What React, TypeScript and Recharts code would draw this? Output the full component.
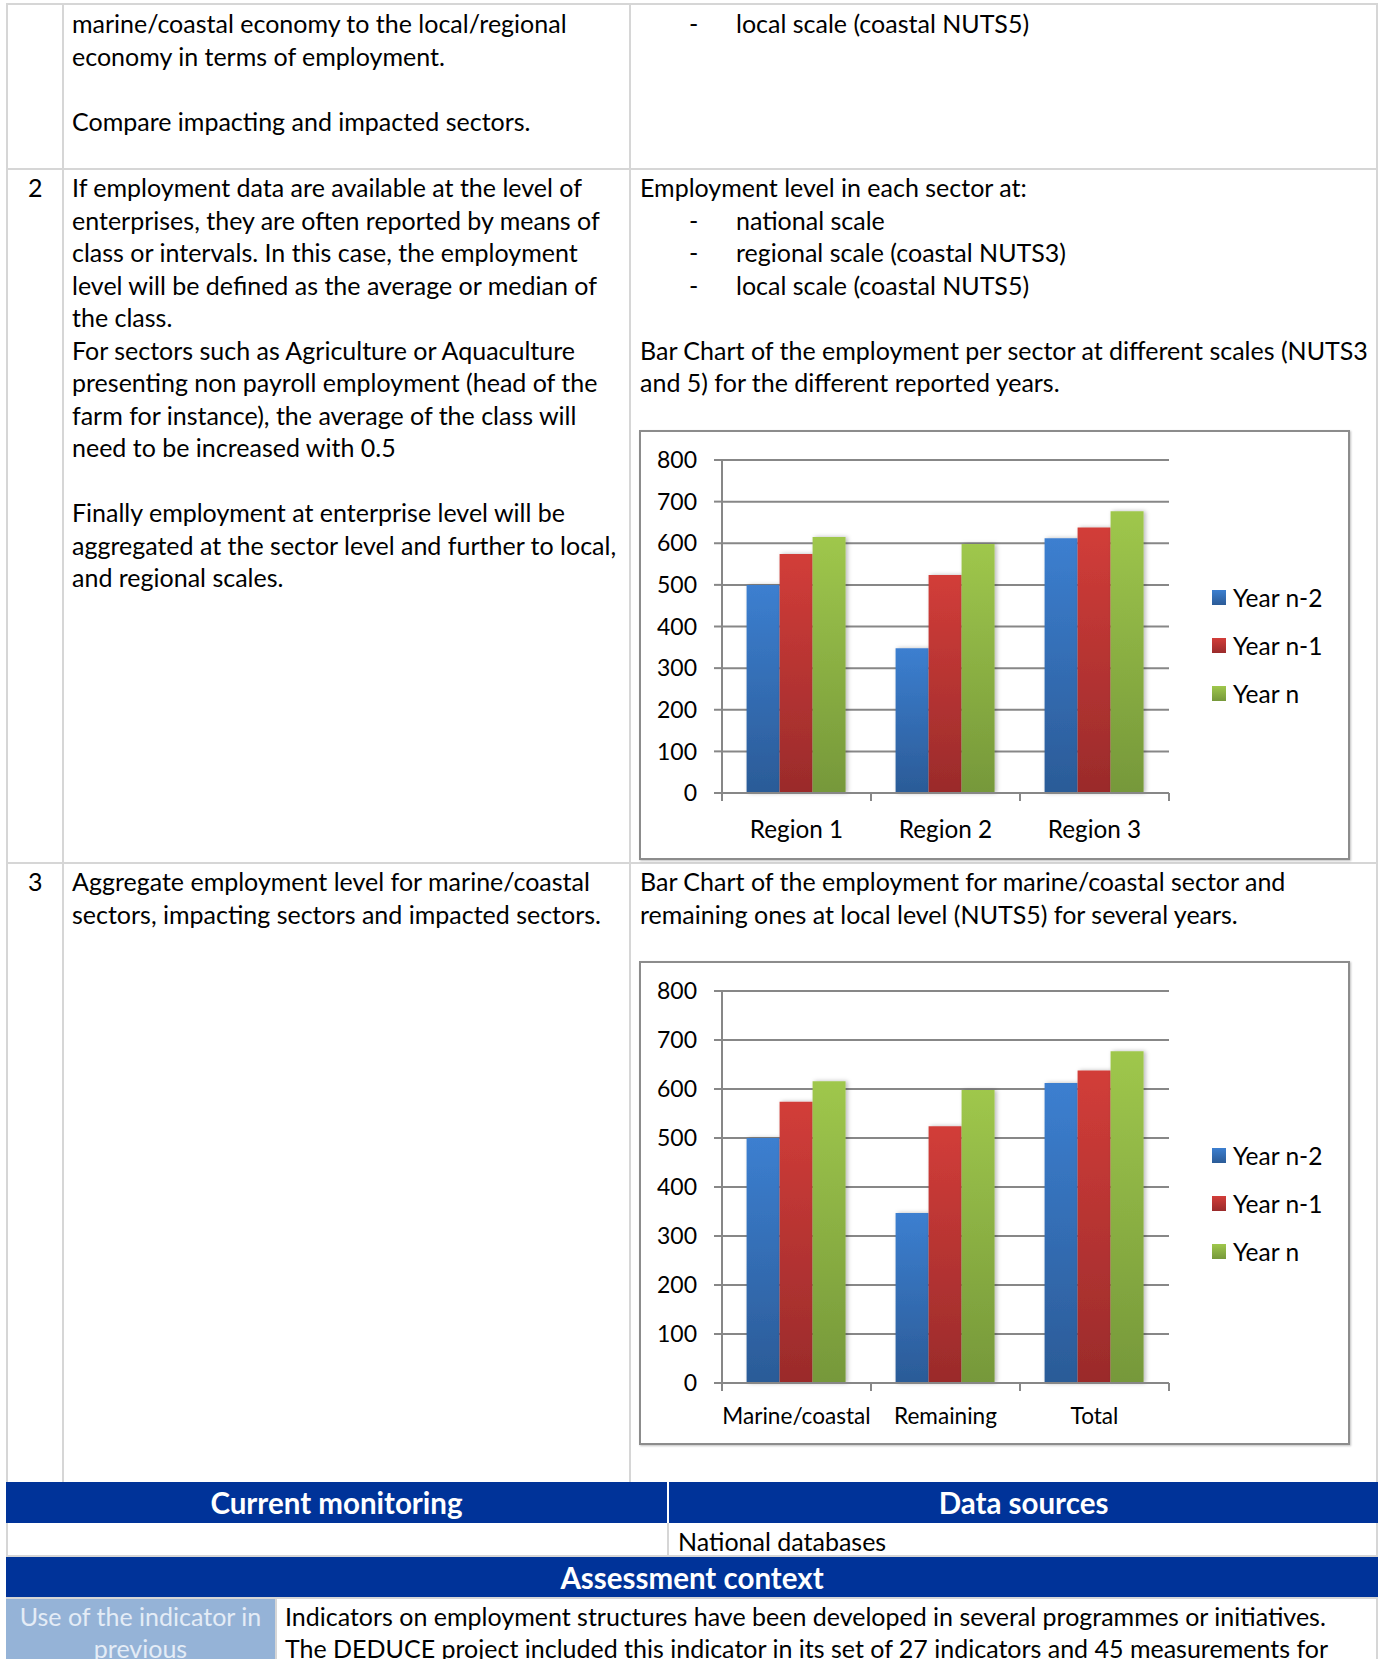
import React from "react";
import { Bar, BarChart, CartesianGrid, XAxis, YAxis } from "recharts";

// chart values read from the page
const regionCategories = ["Region 1", "Region 2", "Region 3"];
const sectorCategories = ["Marine/coastal", "Remaining", "Total"];
const seriesNames = ["Year n-2", "Year n-1", "Year n"];
const regionYearN2 = [500, 348, 612];
const regionYearN1 = [574, 524, 638];
const regionYearN = [615, 598, 677];
const sectorYearN2 = [500, 347, 612];
const sectorYearN1 = [574, 524, 638];
const sectorYearN = [616, 598, 677];
const yTicks = [0, 100, 200, 300, 400, 500, 600, 700, 800];

const seriesKeys = ["n2", "n1", "n"];
const gradients = [
  { id: "gBlue", top: "#3c7fd0", bottom: "#2b5b97" },
  { id: "gRed", top: "#d23d39", bottom: "#9a2b2b" },
  { id: "gGreen", top: "#9fc74c", bottom: "#76983a" }
];

const FONT = "Lato, 'Open Sans', sans-serif";
const GRID = "#878787";
const BORDER = "#d6d6d6";
const BLUE = "#003399";

function buildRows(cats: string[], a: number[], b: number[], c: number[]) {
  return cats.map((name, i) => ({ name, n2: a[i], n1: b[i], n: c[i] }));
}

function BoundaryTick(props: any) {
  const { x, y, payload, index, band, count, labelDy, fontSize } = props;
  return (
    <g>
      <line x1={x - band / 2} x2={x - band / 2} y1={y} y2={y + 8} stroke={GRID} strokeWidth={2} />
      {index === count - 1 && (
        <line x1={x + band / 2} x2={x + band / 2} y1={y} y2={y + 8} stroke={GRID} strokeWidth={2} />
      )}
      <text x={x} y={y + labelDy} textAnchor="middle" dominantBaseline="central" fontSize={fontSize} fill="#000" fontFamily={FONT}>
        {payload.value}
      </text>
    </g>
  );
}

function ChartBox({
  left,
  top,
  width,
  height,
  data,
  marginTop,
  marginBottom,
  labelDy,
  labelSize,
  legendTop
}: {
  left: number;
  top: number;
  width: number;
  height: number;
  data: Record<string, string | number>[];
  marginTop: number;
  marginBottom: number;
  labelDy: number;
  labelSize: number;
  legendTop: number;
}) {
  const innerW = width - 4;
  const innerH = height - 4;
  const yAxisW = 81;
  const marginRight = 179;
  const band = (innerW - yAxisW - marginRight) / data.length;
  return (
    <div
      style={{
        position: "absolute",
        left,
        top,
        width,
        height,
        boxSizing: "border-box",
        border: "2px solid #8c8c8c",
        boxShadow: "1px 1px 2px rgba(0,0,0,0.25)",
        background: "#fff"
      }}
    >
      <BarChart
        width={innerW}
        height={innerH}
        data={data}
        margin={{ top: marginTop, right: marginRight, bottom: marginBottom, left: 0 }}
        barCategoryGap="16.5%"
        barGap={0}
      >
        <defs>
          {gradients.map((g) => (
            <linearGradient key={g.id} id={g.id + top} x1="0" y1="0" x2="0" y2="1">
              <stop offset="0%" stopColor={g.top} />
              <stop offset="100%" stopColor={g.bottom} />
            </linearGradient>
          ))}
          <filter id={"shadow" + top} x="-20%" y="-5%" width="140%" height="110%">
            <feDropShadow dx="2" dy="0" stdDeviation="2" floodColor="#000" floodOpacity="0.28" />
          </filter>
        </defs>
        <CartesianGrid vertical={false} stroke={GRID} strokeWidth={2} />
        <XAxis
          dataKey="name"
          interval={0}
          height={30}
          tickLine={false}
          tickSize={0}
          tickMargin={0}
          axisLine={{ stroke: GRID, strokeWidth: 2 }}
          tick={<BoundaryTick band={band} count={data.length} labelDy={labelDy} fontSize={labelSize} />}
        />
        <YAxis
          width={yAxisW}
          domain={[0, 800]}
          ticks={yTicks}
          interval={0}
          tickSize={8}
          tickMargin={17}
          axisLine={{ stroke: GRID, strokeWidth: 2 }}
          tickLine={{ stroke: GRID, strokeWidth: 2 }}
          tick={{ fill: "#000", fontSize: 23, fontFamily: FONT }}
        />
        {seriesKeys.map((k, i) => (
          <Bar
            key={k}
            dataKey={k}
            name={seriesNames[i]}
            fill={`url(#${gradients[i].id + top})`}
            filter={`url(#shadow${top})`}
            isAnimationActive={false}
          />
        ))}
      </BarChart>
      <div style={{ position: "absolute", left: 571, top: legendTop, fontFamily: FONT, fontSize: 24.5 }}>
        {seriesNames.map((s, i) => (
          <div key={s} style={{ height: 48, display: "flex", alignItems: "center", whiteSpace: "nowrap" }}>
            <span
              style={{
                display: "inline-block",
                width: 14,
                height: 15,
                marginRight: 7,
                background: `linear-gradient(${gradients[i].top}, ${gradients[i].bottom})`
              }}
            />
            {s}
          </div>
        ))}
      </div>
    </div>
  );
}

const BODY = 25;

function Line({ x, y, text, size = BODY, color = "#000", bold = false }: { x: number; y: number; text: string; size?: number; color?: string; bold?: boolean }) {
  return (
    <div
      style={{
        position: "absolute",
        left: x,
        top: y - 16,
        height: 32,
        lineHeight: "32px",
        whiteSpace: "nowrap",
        fontSize: size,
        color,
        fontWeight: bold ? 700 : 400,
        fontFamily: FONT
      }}
    >
      {text}
    </div>
  );
}

function Centered({ x1, x2, y, text, size, color, bold }: { x1: number; x2: number; y: number; text: string; size: number; color: string; bold?: boolean }) {
  return (
    <div
      style={{
        position: "absolute",
        left: x1,
        width: x2 - x1,
        top: y - 16,
        height: 32,
        lineHeight: "32px",
        textAlign: "center",
        whiteSpace: "nowrap",
        fontSize: size,
        color,
        fontWeight: bold ? 700 : 400,
        fontFamily: FONT
      }}
    >
      {text}
    </div>
  );
}

function Rect({ l, t, w, h, c }: { l: number; t: number; w: number; h: number; c: string }) {
  return <div style={{ position: "absolute", left: l, top: t, width: w, height: h, background: c }} />;
}

const LH = 32.5;
const col2Row2 = [
  "If employment data are available at the level of",
  "enterprises, they are often reported by means of",
  "class or intervals. In this case, the employment",
  "level will be defined as the average or median of",
  "the class.",
  "For sectors such as Agriculture or Aquaculture",
  "presenting non payroll employment (head of the",
  "farm for instance), the average of the class will",
  "need to be increased with 0.5",
  "",
  "Finally employment at enterprise level will be",
  "aggregated at the sector level and further to local,",
  "and regional scales."
];

export default function App() {
  const regionData = buildRows(regionCategories, regionYearN2, regionYearN1, regionYearN);
  const sectorData = buildRows(sectorCategories, sectorYearN2, sectorYearN1, sectorYearN);
  return (
    <div style={{ position: "absolute", left: 0, top: 0, width: 1380, height: 1659, background: "#fff", overflow: "hidden" }}>
      {/* table grid */}
      <Rect l={6} t={3} w={1372} h={2} c={BORDER} />
      <Rect l={6} t={168} w={1372} h={2} c={BORDER} />
      <Rect l={6} t={862} w={1372} h={2} c={BORDER} />
      <Rect l={6} t={3} w={2} h={1480} c={BORDER} />
      <Rect l={62} t={3} w={2} h={1480} c={BORDER} />
      <Rect l={629} t={3} w={2} h={1480} c={BORDER} />
      <Rect l={1376} t={3} w={2} h={1480} c={BORDER} />

      {/* row 1 */}
      <Line x={72} y={23} text="marine/coastal economy to the local/regional" />
      <Line x={72} y={23 + LH} text="economy in terms of employment." />
      <Line x={72} y={23 + 3 * LH} text="Compare impacting and impacted sectors." />
      <Line x={689} y={23} text="-" />
      <Line x={736} y={23} text="local scale (coastal NUTS5)" />

      {/* row 2 */}
      <Line x={28} y={187} text="2" />
      {col2Row2.map((t, i) => (t ? <Line key={i} x={72} y={187 + i * LH} text={t} /> : null))}
      <Line x={640} y={187} text="Employment level in each sector at:" />
      <Line x={689} y={187 + LH} text="-" />
      <Line x={736} y={187 + LH} text="national scale" />
      <Line x={689} y={187 + 2 * LH} text="-" />
      <Line x={736} y={187 + 2 * LH} text="regional scale (coastal NUTS3)" />
      <Line x={689} y={187 + 3 * LH} text="-" />
      <Line x={736} y={187 + 3 * LH} text="local scale (coastal NUTS5)" />
      <Line x={640} y={187 + 5 * LH} text="Bar Chart of the employment per sector at different scales (NUTS3" />
      <Line x={640} y={187 + 6 * LH} text="and 5) for the different reported years." />
      <ChartBox
        left={639}
        top={430}
        width={711}
        height={430}
        data={regionData}
        marginTop={28}
        marginBottom={35}
        labelDy={35}
        labelSize={24.3}
        legendTop={141}
      />

      {/* row 3 */}
      <Line x={28} y={881} text="3" />
      <Line x={72} y={881} text="Aggregate employment level for marine/coastal" />
      <Line x={72} y={881 + LH} text="sectors, impacting sectors and impacted sectors." />
      <Line x={640} y={881} text="Bar Chart of the employment for marine/coastal sector and" />
      <Line x={640} y={881 + LH} text="remaining ones at local level (NUTS5) for several years." />
      <ChartBox
        left={639}
        top={961}
        width={711}
        height={484}
        data={sectorData}
        marginTop={28}
        marginBottom={30}
        labelDy={32}
        labelSize={22.6}
        legendTop={168}
      />

      {/* monitoring / sources */}
      <Rect l={6} t={1482} w={1372} h={41} c={BLUE} />
      <Rect l={667} t={1482} w={2} h={41} c="#ffffff" />
      <Centered x1={6} x2={667} y={1503} text="Current monitoring" size={29.5} color="#ffffff" bold />
      <Centered x1={669} x2={1378} y={1503} text="Data sources" size={29.5} color="#ffffff" bold />
      <Rect l={6} t={1523} w={2} h={34} c={BORDER} />
      <Rect l={667} t={1523} w={2} h={34} c={BORDER} />
      <Rect l={1376} t={1523} w={2} h={34} c={BORDER} />
      <Rect l={6} t={1555} w={1372} h={2} c={BORDER} />
      <Line x={678} y={1541} text="National databases" />

      {/* assessment context */}
      <Rect l={6} t={1557} w={1372} h={40} c={BLUE} />
      <Centered x1={6} x2={1378} y={1578} text="Assessment context" size={29.5} color="#ffffff" bold />
      <Rect l={6} t={1597} w={1372} h={2} c={BORDER} />
      <Rect l={6} t={1599} w={269} h={60} c="#95b3d7" />
      <Rect l={275} t={1599} w={2} h={60} c={BORDER} />
      <Rect l={1376} t={1599} w={2} h={60} c={BORDER} />
      <Centered x1={6} x2={275} y={1616} text="Use of the indicator in" size={BODY} color="#e4ecf6" />
      <Centered x1={6} x2={275} y={1648} text="previous" size={BODY} color="#e4ecf6" />
      <Line x={285} y={1616} text="Indicators on employment structures have been developed in several programmes or initiatives." />
      <Line x={285} y={1648} text="The DEDUCE project included this indicator in its set of 27 indicators and 45 measurements for" />
    </div>
  );
}
